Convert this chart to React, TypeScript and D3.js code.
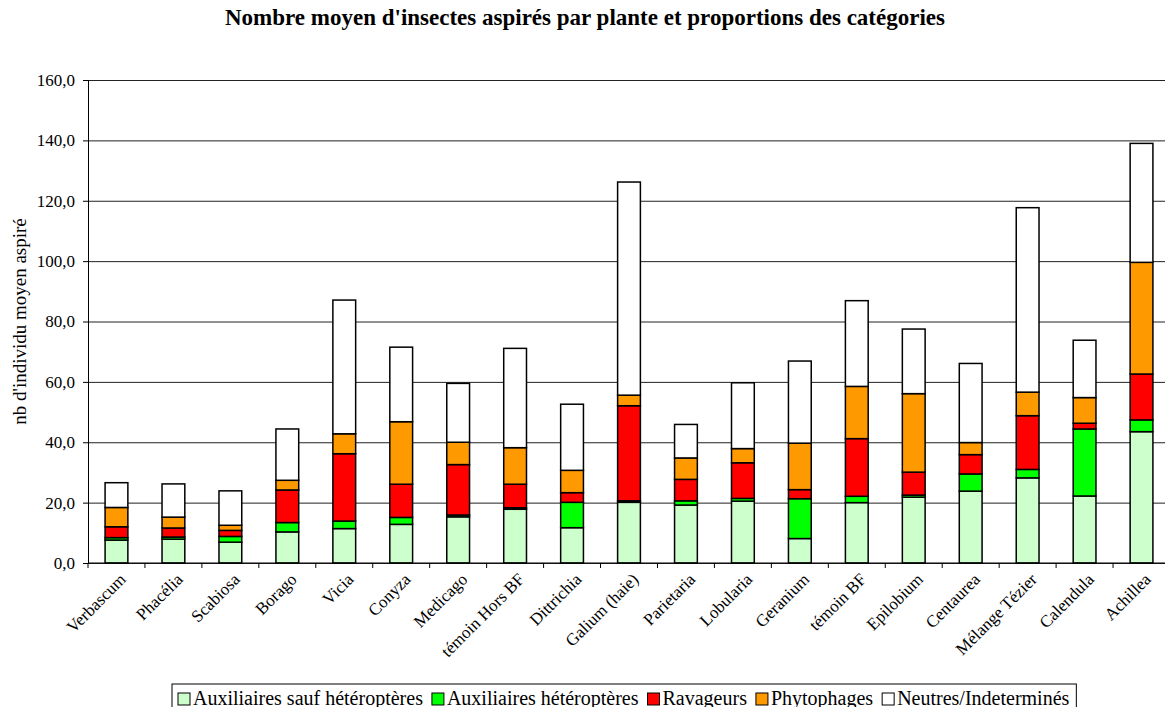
import { useEffect, useRef } from 'react'
import * as d3 from 'd3'

const plants = [
  'Verbascum', 'Phacélia', 'Scabiosa', 'Borago', 'Vicia', 'Conyza', 'Medicago',
  'témoin Hors BF', 'Dittrichia', 'Galium (haie)', 'Parietaria', 'Lobularia',
  'Geranium', 'témoin BF', 'Epilobium', 'Centaurea', 'Mélange Tézier',
  'Calendula', 'Achillea',
]

const seriesNames = [
  'Auxiliaires sauf hétéroptères',
  'Auxiliaires hétéroptères',
  'Ravageurs',
  'Phytophages',
  'Neutres/Indeterminés',
]

const auxSaufHet = [7.6, 7.9, 6.9, 10.3, 11.4, 12.8, 15.3, 17.8, 11.7, 20.1, 19.2, 20.5, 8.1, 20.0, 21.8, 23.8, 28.2, 22.2, 43.5]
const auxHet = [0.8, 0.7, 1.9, 3.1, 2.5, 2.3, 0.6, 0.5, 8.4, 0.5, 1.4, 0.9, 13.2, 2.1, 0.7, 5.7, 2.8, 22.2, 3.9]
const ravageurs = [3.6, 3.0, 2.0, 10.8, 22.3, 11.0, 16.7, 7.8, 3.2, 31.5, 7.1, 11.8, 3.0, 19.1, 7.6, 6.4, 17.8, 1.9, 15.2]
const phytophages = [6.4, 3.6, 1.7, 3.2, 6.6, 20.7, 7.4, 12.1, 7.4, 3.5, 7.1, 4.7, 15.4, 17.3, 26.0, 4.0, 7.8, 8.5, 37.0]
const neutres = [8.2, 11.0, 11.4, 17.0, 44.3, 24.7, 19.5, 32.9, 21.9, 70.6, 11.1, 21.8, 27.2, 28.4, 21.4, 26.2, 61.1, 19.0, 39.4]

const colors = ['#ccffcc', '#00ff00', '#ff0000', '#ff9900', '#ffffff']
const yTicks = [0, 20, 40, 60, 80, 100, 120, 140, 160]

export default function App() {
  const svgRef = useRef<SVGSVGElement>(null)

  useEffect(() => {
    if (!svgRef.current) return
    const W = 1173
    const H = 715
    const margin = { top: 80, right: 3, bottom: 152, left: 88 }
    const iw = W - margin.left - margin.right
    const ih = H - margin.top - margin.bottom
    const font = '"Liberation Serif", "Times New Roman", serif'

    const svg = d3.select(svgRef.current)
    svg.selectAll('*').remove()

    const rows = plants.map((p, i) => ({
      plant: p,
      s0: auxSaufHet[i],
      s1: auxHet[i],
      s2: ravageurs[i],
      s3: phytophages[i],
      s4: neutres[i],
    }))
    const stack = d3.stack<typeof rows[number]>().keys(['s0', 's1', 's2', 's3', 's4'])(rows)

    const x = d3.scaleBand().domain(plants).range([0, iw]).paddingInner(0.6).paddingOuter(0.3)
    const xBand = d3.scaleBand().domain(plants).range([0, iw])
    const y = d3.scaleLinear().domain([0, 160]).range([ih, 0])

    // Title
    svg.append('text')
      .attr('x', 585)
      .attr('y', 25)
      .attr('text-anchor', 'middle')
      .attr('font-family', font)
      .attr('font-weight', 'bold')
      .attr('font-size', 23)
      .text("Nombre moyen d'insectes aspirés par plante et proportions des catégories")

    const g = svg.append('g').attr('transform', `translate(${margin.left},${margin.top})`)

    // Grid
    g.append('g')
      .call(d3.axisLeft(y).tickValues(yTicks).tickSize(-iw).tickFormat('' as never))
      .call(gg => gg.select('.domain').remove())
      .call(gg => gg.selectAll('line').attr('stroke', '#222').attr('stroke-width', 1))

    // right border
    g.append('line')
      .attr('x1', iw).attr('x2', iw).attr('y1', 0).attr('y2', ih)
      .attr('stroke', '#999')

    // Bars
    stack.forEach((layer, k) => {
      g.append('g')
        .selectAll('rect')
        .data(layer)
        .enter()
        .append('rect')
        .attr('x', d => x(d.data.plant)!)
        .attr('width', x.bandwidth())
        .attr('y', d => y(d[1]))
        .attr('height', d => y(d[0]) - y(d[1]))
        .attr('fill', colors[k])
        .attr('stroke', '#000')
        .attr('stroke-width', 1.5)
    })

    // Y axis
    g.append('g')
      .call(d3.axisLeft(y).tickValues(yTicks).tickSize(5).tickPadding(8)
        .tickFormat(d => (d as number).toFixed(1).replace('.', ',')))
      .call(gg => gg.select('.domain').attr('stroke', '#000'))
      .call(gg => gg.selectAll('text').attr('font-family', font).attr('font-size', 17).attr('fill', '#000'))

    // X axis
    const xa = g.append('g').attr('transform', `translate(0,${ih})`)
    xa.append('line').attr('x1', 0).attr('x2', iw).attr('stroke', '#000')
    xa.selectAll('.tk')
      .data(plants.concat(['__end']))
      .enter()
      .append('line')
      .attr('x1', (d, i) => i < plants.length ? xBand(d)! : iw)
      .attr('x2', (d, i) => i < plants.length ? xBand(d)! : iw)
      .attr('y1', 0).attr('y2', 5)
      .attr('stroke', '#000')

    xa.selectAll('.lbl')
      .data(plants)
      .enter()
      .append('text')
      .attr('transform', d => `translate(${xBand(d)! + xBand.bandwidth() / 2 + 2},${9}) rotate(-45)`)
      .attr('text-anchor', 'end')
      .attr('font-family', font)
      .attr('font-size', 17)
      .attr('dy', '0.7em')
      .text(d => d)

    // Y axis title
    svg.append('text')
      .attr('transform', `translate(26,${margin.top + ih / 2}) rotate(-90)`)
      .attr('text-anchor', 'middle')
      .attr('font-family', font)
      .attr('font-size', 19)
      .text("nb d'individu moyen aspiré")

    // Legend
    const lg = svg.append('g')
    const legX = 172
    const legY = 684
    const lgBox = lg.append('rect')
      .attr('x', legX).attr('y', legY)
      .attr('height', 28)
      .attr('fill', '#fff')
      .attr('stroke', '#000')
    let cx = legX + 6
    seriesNames.forEach((name, k) => {
      lg.append('rect')
        .attr('x', cx).attr('y', legY + 9)
        .attr('width', 12).attr('height', 12)
        .attr('fill', colors[k]).attr('stroke', '#000')
      const t = lg.append('text')
        .attr('x', cx + 15).attr('y', legY + 21)
        .attr('font-family', font)
        .attr('font-size', 20)
        .text(name)
      const tw = (t.node() as SVGTextElement).getComputedTextLength()
      cx += 15 + tw + 9
    })
    lgBox.attr('width', cx - legX - 2)
  }, [])

  return (
    <svg ref={svgRef} width={1173} height={715} style={{ display: 'block', margin: '-8px' }} />
  )
}
